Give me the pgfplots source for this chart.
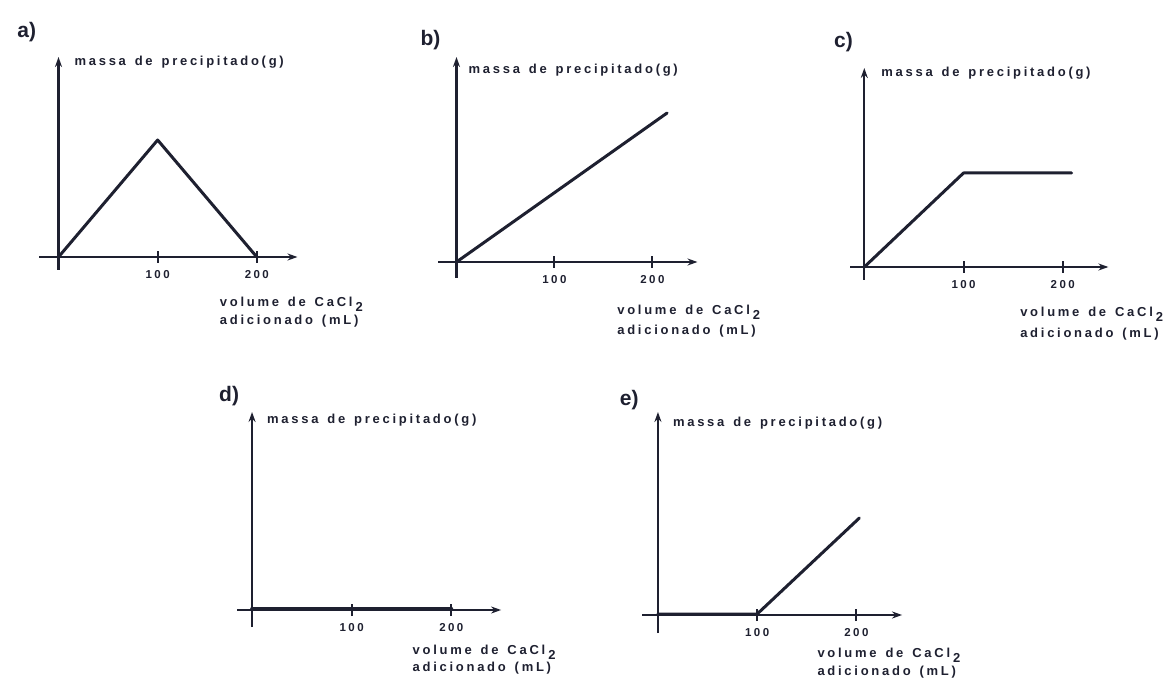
\documentclass[border=0pt]{standalone}
\usepackage{pgfplots}
\pgfplotsset{compat=1.18}
\usetikzlibrary{arrows.meta}
\usepackage{fontspec}
\setmainfont{Liberation Sans}
\newfontfamily\plotfont[LetterSpace=21, WordSpace=1.4]{Liberation Sans}
\definecolor{ink}{HTML}{1E2030}

\pgfplotsset{
  panel/.style={
    axis lines=middle,
    scale only axis,
    clip=false,
    /pgf/number format/assume math mode=true,
    axis line style={ink, line width=2.4pt, -{Stealth[length=10pt,width=7pt]}},
    xtick={100,200}, ytick=\empty,
    xtick align=center,
    major tick length=12pt,
    tick style={ink, line width=2pt},
    xticklabel style={font=\plotfont\bfseries\fontsize{11.5}{12}\selectfont, text=ink, anchor=north, yshift=-4pt},
    every axis x label/.style={anchor=north west, inner sep=0pt, align=left, text=ink,
      font=\plotfont\bfseries\fontsize{13}{18}\selectfont},
    every axis y label/.style={anchor=west, inner sep=0pt, text=ink,
      font=\plotfont\bfseries\fontsize{13}{14}\selectfont},
    every axis title/.style={anchor=center, inner sep=0pt, text=ink,
      font=\bfseries\fontsize{21}{22}\selectfont},
    ylabel={massa de precipitado(g)},
  },
  dataline/.style={ink, line width=3pt, line join=round, line cap=round, mark=none},
}

\newcommand{\xlab}[1]{volume de CaCl\hspace{3pt}\raisebox{-5pt}{2}\\[#1]adicionado (mL)}

\begin{document}
\begin{tikzpicture}[x=1pt,y=1pt]
\useasboundingbox (0,0) rectangle (1173,681);

% a)
\begin{axis}[panel, at={(59,424)}, anchor=origin,
  width=258pt, height=213pt, xmin=-19.2, xmax=241, ymin=-13, ymax=200,
  title={a)}, title style={at={(axis cs:-32,225)}},
  xlabel={\xlab{0pt}}, xlabel style={at={(axis cs:162.6,-40)}},
  ylabel style={at={(axis cs:16,195)}}]
\addplot[dataline] coordinates {(0,0) (100,117) (200,0)};
\end{axis}

% b)
\begin{axis}[panel, at={(466,419)}, anchor=origin,
  width=259pt, height=221pt, xmin=-18.4, xmax=246, ymin=-16, ymax=205,
  title={b)}, title style={at={(axis cs:-26.5,222)}},
  xlabel={\xlab{2pt}}, xlabel style={at={(axis cs:164,-43)}},
  ylabel style={at={(axis cs:12.2,192)}}]
\addplot[dataline] coordinates {(0,0) (215,149)};
\end{axis}

% c)
\begin{axis}[panel, at={(871,414)}, anchor=origin,
  width=258pt, height=212pt, xmin=-14, xmax=246, ymin=-13, ymax=199,
  title={c)}, title style={at={(axis cs:-21,225)}},
  xlabel={\xlab{3pt}}, xlabel style={at={(axis cs:157,-40)}},
  ylabel style={at={(axis cs:17,194)}}]
\addplot[dataline] coordinates {(0,0) (100,94) (209,94)};
\end{axis}

% d)
\begin{axis}[panel, at={(253,71)}, anchor=origin,
  width=264pt, height=215pt, xmin=-15, xmax=250, ymin=-17, ymax=198,
  title={d)}, title style={at={(axis cs:-23,214)}},
  xlabel={\xlab{-1pt}}, xlabel style={at={(axis cs:161,-35)}},
  ylabel style={at={(axis cs:15,190)}}]
\addplot[dataline, line width=4pt] coordinates {(0,1) (200,1)};
\end{axis}

% e)
\begin{axis}[panel, at={(663,66)}, anchor=origin,
  width=260pt, height=221pt, xmin=-16, xmax=246, ymin=-18, ymax=203,
  title={e)}, title style={at={(axis cs:-29,215)}},
  xlabel={\xlab{0pt}}, xlabel style={at={(axis cs:160.6,-33)}},
  ylabel style={at={(axis cs:15,192)}}]
\addplot[dataline] coordinates {(0,1) (100,1) (203,97)};
\end{axis}
\end{tikzpicture}
\end{document}
